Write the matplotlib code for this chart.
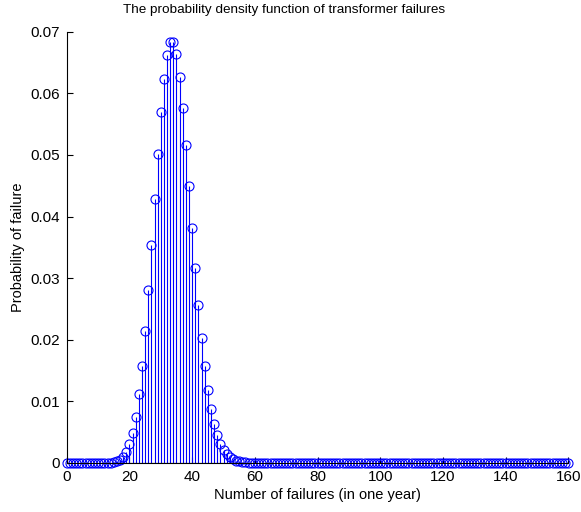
import numpy as np
import matplotlib.pyplot as plt

plt.rcParams['font.family'] = ['Liberation Sans', 'DejaVu Sans']

# values (x = 0..160)
head_zeros = [0.0] * 13  # x = 0..12
core = [0.00002, 0.00005, 0.00012, 0.00026, 0.00052, 0.00098, 0.00176,   # 13..19
        0.0030, 0.00485, 0.0075, 0.0111, 0.0157, 0.0214, 0.0280, 0.0353,  # 20..27
        0.0428, 0.0502, 0.0569, 0.0624, 0.0663, 0.0683, 0.0683, 0.0664,   # 28..35
        0.0627, 0.0576, 0.0516, 0.0450, 0.0382, 0.0317, 0.0257, 0.0203,   # 36..43
        0.0157, 0.0118, 0.00874, 0.00632, 0.00448, 0.00311, 0.00211,      # 44..50
        0.00141, 0.00092, 0.00059, 0.00037, 0.00023, 0.00014, 0.00008,    # 51..57
        0.00005, 0.00003]                                                 # 58..59
tail_zeros = [0.0] * 101  # x = 60..160
prob = head_zeros + core + tail_zeros
failures = list(range(len(prob)))

fig = plt.figure(figsize=(5.81, 5.12), dpi=100)
ax = fig.add_axes([0.115, 0.096, 0.863, 0.842])

markerline, stemlines, baseline = ax.stem(failures, prob, linefmt='b-', markerfmt='bo', basefmt='k-')
plt.setp(stemlines, linewidth=0.8, color='#0000ff')
plt.setp(markerline, markersize=6.5, markerfacecolor='none', markeredgecolor='#0000ff',
         markeredgewidth=0.8, clip_on=False)
plt.setp(baseline, linewidth=0.8, color='black')

ax.set_xlim(0, 160)
ax.set_ylim(0, 0.07)
ax.set_xticks(range(0, 161, 20))
ax.set_yticks(np.arange(0, 0.0701, 0.01))
ax.set_yticklabels(['0', '0.01', '0.02', '0.03', '0.04', '0.05', '0.06', '0.07'])
ax.tick_params(direction='in', length=4, width=0.8, labelsize=11, pad=5)
ax.spines['top'].set_visible(False)
ax.spines['right'].set_visible(False)

# title sits centred over the figure rather than the axes
fig.text(0.489, 0.981, 'The probability density function of transformer failures',
         fontsize=9.7, ha='center', va='center')
ax.set_xlabel('Number of failures (in one year)', fontsize=10.5, labelpad=3)
ax.set_ylabel('Probability of failure', fontsize=10.5, labelpad=4)

fig.savefig('out.png', dpi=100)
